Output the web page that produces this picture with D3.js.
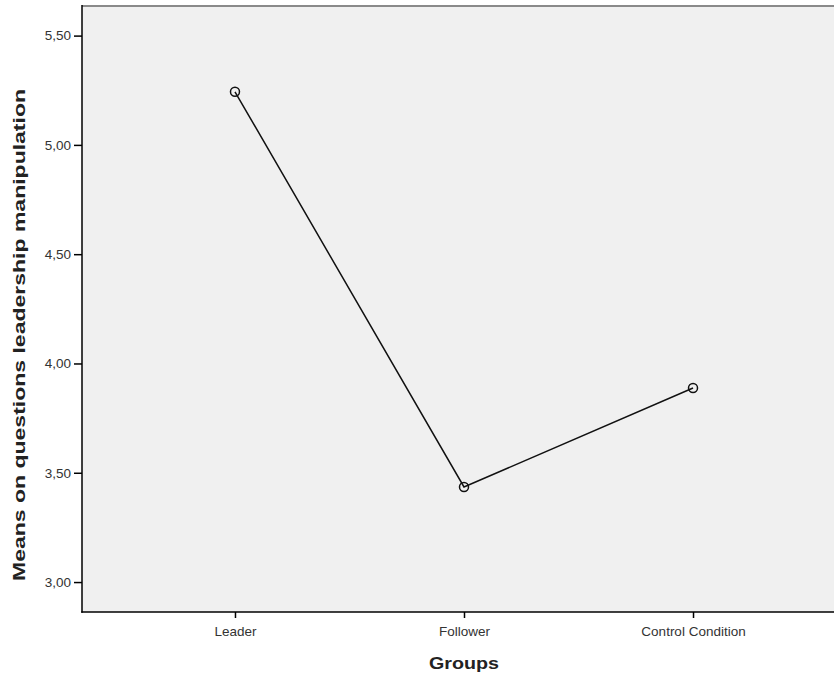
<!DOCTYPE html>
<html><head><meta charset="utf-8">
<script src="https://cdn.jsdelivr.net/npm/d3@7"></script>
<style>body{margin:0;background:#fff}svg{display:block}</style>
</head><body>
<svg id="c" width="834" height="676"></svg>
<script>
const categories = ["Leader", "Follower", "Control Condition"];
const means = [5.243, 3.435, 3.888];
const yTicks = [3.0, 3.5, 4.0, 4.5, 5.0, 5.5];

const svg = d3.select("#c");
const pL = 82, pT = 5, pR = 846, pB = 612;
const FONT = "Liberation Sans, Arial, sans-serif";

const x = d3.scalePoint().domain(categories).range([pL, pR]).padding(0.668);
const y = d3.scaleLinear().domain([2.863, 5.640]).range([pB, pT]);

svg.append("rect").attr("x", pL).attr("y", pT).attr("width", pR - pL).attr("height", pB - pT)
  .attr("fill", "#f0f0f0");
svg.append("line").attr("x1", pL).attr("x2", 834).attr("y1", pT + 1).attr("y2", pT + 1)
  .attr("stroke", "#8a8a8a").attr("stroke-width", 2);

const fmt = d => d3.format(".2f")(d).replace(".", ",");

const ya = svg.append("g").attr("transform", `translate(${pL},0)`)
  .call(d3.axisLeft(y).tickValues(yTicks).tickFormat(fmt).tickSize(8).tickPadding(3));
ya.select(".domain").remove();
ya.selectAll(".tick line").attr("stroke", "#000").attr("stroke-width", 1.5);
ya.selectAll(".tick text").attr("font-family", FONT).attr("font-size", 13.5).attr("fill", "#333");
svg.append("line").attr("x1", pL).attr("x2", pL).attr("y1", pT).attr("y2", pB + 0.75)
  .attr("stroke", "#000").attr("stroke-width", 1.5);

const xa = svg.append("g").attr("transform", `translate(0,${pB})`)
  .call(d3.axisBottom(x).tickSize(6).tickPadding(8));
xa.select(".domain").remove();
xa.selectAll(".tick line").attr("stroke", "#000").attr("stroke-width", 1.5);
xa.selectAll(".tick text").attr("font-family", FONT).attr("font-size", 13.5).attr("fill", "#333");
svg.append("line").attr("x1", pL - 0.75).attr("x2", 834).attr("y1", pB).attr("y2", pB)
  .attr("stroke", "#000").attr("stroke-width", 1.5);

const data = categories.map((c, i) => ({c, v: means[i]}));
svg.append("path").datum(data)
  .attr("d", d3.line().x(d => x(d.c)).y(d => y(d.v)))
  .attr("fill", "none").attr("stroke", "#111").attr("stroke-width", 1.5);
svg.selectAll("circle.pt").data(data).join("circle")
  .attr("cx", d => x(d.c)).attr("cy", d => y(d.v)).attr("r", 4.5)
  .attr("fill", "none").attr("stroke", "#111").attr("stroke-width", 1.5);

svg.append("text").attr("x", 464).attr("y", 669).attr("text-anchor", "middle")
  .attr("font-family", FONT).attr("font-weight", "bold").attr("font-size", 16.5)
  .attr("textLength", 70).attr("lengthAdjust", "spacingAndGlyphs")
  .attr("fill", "#222").text("Groups");
svg.append("text").attr("transform", `translate(25,335) rotate(-90)`).attr("text-anchor", "middle")
  .attr("font-family", FONT).attr("font-weight", "bold").attr("font-size", 16.5)
  .attr("textLength", 492).attr("lengthAdjust", "spacingAndGlyphs")
  .attr("fill", "#222").text("Means on questions leadership manipulation");
</script>
</body></html>
